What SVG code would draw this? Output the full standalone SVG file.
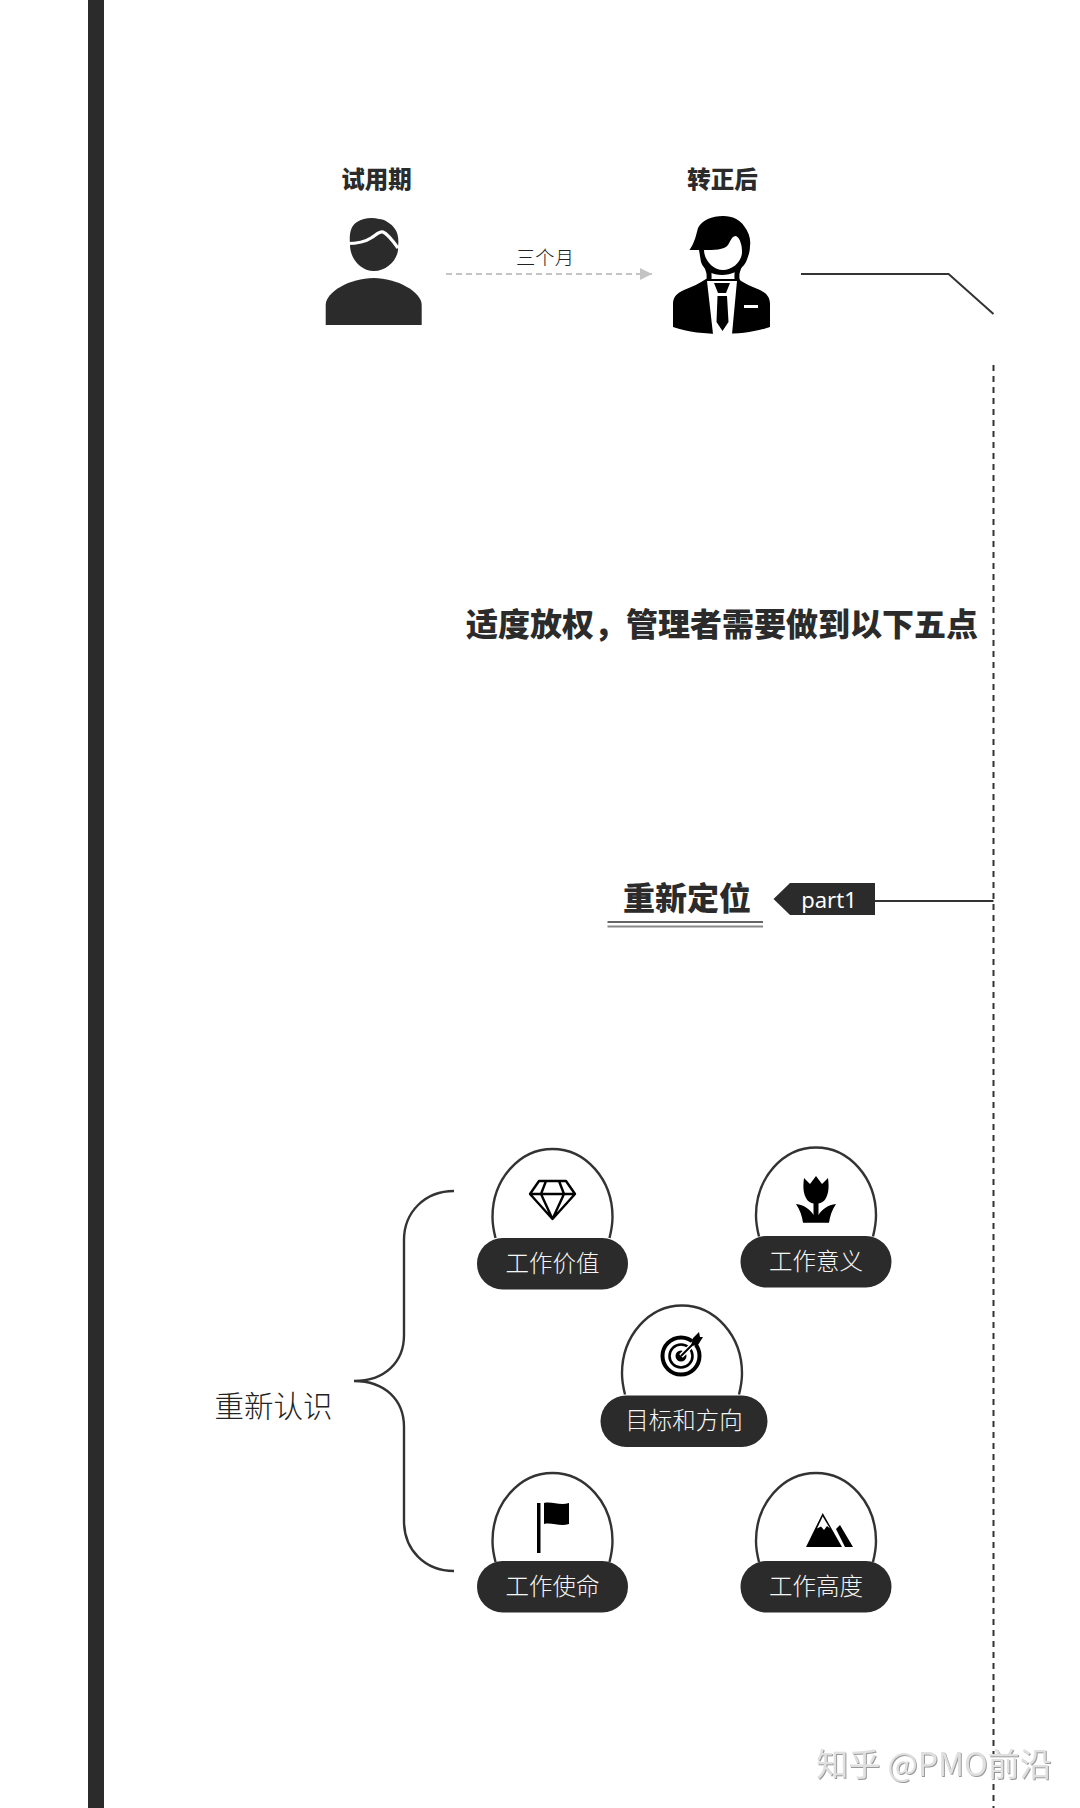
<svg xmlns="http://www.w3.org/2000/svg" width="1080" height="1808" viewBox="0 0 1080 1808">
<style>
text{font-family:"Noto Sans CJK SC","Noto Sans",sans-serif;text-anchor:middle;dominant-baseline:central}
.h{font-weight:900;fill:#2b2b2b}
.l{font-weight:300;fill:#222}
.p{font-size:23.5px;font-weight:300;fill:#f6f6f6}
.dome{fill:#fff;stroke:#333;stroke-width:2.4}
.pill{fill:#2b2b2b}
.c{fill:none;stroke:#333}
</style>
<defs>
<path id="dome" class="dome" d="M-57,89C-59,81-60,75-60,68A60,68 0 0 1 60,68C60,75 59,81 57,89"/>
<marker id="ah" markerUnits="userSpaceOnUse" markerWidth="12" markerHeight="12" refX="12" refY="6" orient="auto"><path d="M0,0L12,6L0,12Z" fill="#c4c4c4"/></marker>
<filter id="wm" x="-5%" y="-20%" width="110%" height="140%"><feDropShadow dx="1" dy="1" stdDeviation="0.5" flood-color="#999"/></filter>
</defs>
<rect width="1080" height="1808" fill="#fff"/>
<rect id="bar" x="88" y="0" width="16" height="1808" fill="#2b2b2b"/>

<g id="connectors">
<path d="M446,274H652" stroke="#c4c4c4" stroke-width="2" stroke-dasharray="6 4" fill="none" marker-end="url(#ah)"/>
<path class="c" stroke-width="2" d="M801,274H948.6L993.5,314"/>
<path class="c" stroke-width="2" stroke-dasharray="6 5" d="M993.5,365V1808"/>
<path class="c" stroke-width="2" d="M875,901H993.5"/>
<path class="c" stroke-width="2.4" d="M454,1191C425,1191 404,1212 404,1240V1335C404,1362 385,1381 354,1381C385,1381 404,1400 404,1427V1521C404,1550 425,1571 454,1571"/>
</g>

<g id="trial">
<text class="h" x="376.500" y="177.500" font-size="23.5">试用期</text>
<path fill="#2b2b2b" d="M350,245C349,232 351,226 357,222C363,218 372,217 379,219C384,219 392,224 395,229C398,233 399,240 398,247C399,258 388,271 374,271C360,271 350,258 350,245Z"/>
<path fill="none" stroke="#fff" stroke-width="3.2" d="M347,243.5C358,243.5 365,242 371,238C376,235 379,231 383,232C388,234 393,241 398,248"/>
<path fill="#2b2b2b" d="M325.7,325V305C325.7,292 350,278 373.7,278C397,278 421.700,292 421.700,305V325Z"/>
</g>

<text class="l" x="545" y="256.500" font-size="19.3" id="label-months">三个月</text>

<g id="regular">
<text class="h" x="722.500" y="177.500" font-size="23.5">转正后</text>
<path fill="#000" d="M673,327V304C673,297 677,293 684,290C692,287 700,283 706,279L738,279C744,283 752,287 760,290C766,293 770,297 770,304V327C755,332 740,334 722,334C705,334 688,332 673,327Z"/>
<path fill="none" stroke="#000" stroke-width="5" d="M705,262C708,270 711,275 708,282M741,262C738,270 735,275 738,282"/>
<path fill="#000" d="M689.500,250C695,242 696,235 698,228C702,220 712,216 723,216C733,216 740,220 744,226C749,232 751,240 750,246C750,252 748,257 746,262C741,271 731,275 722,275C713,275 704,271 701,262L699,250Z"/>
<path fill="#fff" d="M704,250C714,250 724,250 728,245C731,240 732,236 736,236C740,238 742,245 742,252C742,262 732,270 723,270C713,270 704,260 704,250Z"/>
<path fill="#fff" d="M707,281H737L732,334H713Z"/>
<path fill="#000" d="M714,283H730L726,293H718ZM717.500,296H727L728.500,322L722.500,331L716.500,322Z"/>
<path fill="#fff" d="M744,305H758V308H744Z"/>
</g>

<text class="h" x="722" y="622.300" font-size="32" id="title">适度放权，管理者需要做到以下五点</text>

<g id="part1">
<text class="h" x="687" y="896" font-size="32">重新定位</text>
<path d="M607.5,922H763" stroke="#333" stroke-width="1.4"/>
<path d="M607.5,926.5H763" stroke="#888" stroke-width="2"/>
<path fill="#2b2b2b" d="M773.5,899L790,883H875V915H790Z"/>
<text x="829" y="898.500" font-size="22" fill="#fff" style="font-family:'Noto Sans',sans-serif;font-weight:400">part1</text>
</g>

<text class="l" x="273.5" y="1404" font-size="29.5" id="relearn">重新认识</text>

<g id="value">
<use href="#dome" x="552.5" y="1149"/>
<rect class="pill" x="477" y="1238" width="151" height="51.5" rx="25.7"/>
<text class="p" x="552.5" y="1261.500">工作价值</text>
<path fill="none" stroke="#000" stroke-width="2.4" stroke-linejoin="round" d="M539,1181H566L575,1194L552.5,1219L530,1194ZM530,1194H575M546,1181L541,1194L552.5,1219L564,1194L559,1181"/>
</g>
<g id="meaning">
<use href="#dome" x="816" y="1147.5"/>
<rect class="pill" x="740.5" y="1236" width="151" height="51.5" rx="25.7"/>
<text class="p" x="816" y="1260">工作意义</text>
<path fill="#000" d="M804,1178L810,1184L816,1176L822,1184L828,1178C829,1186 829,1192 826,1198C824,1202 821,1203 818.500,1203.500V1215C822,1209 828,1205 836,1204C832,1210 830,1216 829,1222.700H803C802,1216 800,1210 796,1204C804,1205 810,1209 813.500,1215V1203.500C811,1203 808,1202 806,1198C803,1192 803,1186 804,1178Z"/>
</g>
<g id="goal">
<use href="#dome" x="682" y="1305.5"/>
<rect class="pill" x="600.5" y="1395.5" width="167" height="51.5" rx="25.7"/>
<text class="p" x="684" y="1419">目标和方向</text>
<circle cx="681" cy="1356" r="18.5" fill="none" stroke="#000" stroke-width="4"/>
<circle cx="681" cy="1356" r="11.5" fill="none" stroke="#000" stroke-width="2.6"/>
<circle cx="681" cy="1356" r="5.5" fill="#000"/>
<path d="M681,1356L697,1340" stroke="#fff" stroke-width="5"/>
<path d="M681,1356L697,1340" stroke="#000" stroke-width="2"/>
<path fill="#000" d="M693,1338L699,1332L700,1337L703,1337L698,1345L691,1346Z"/>
</g>
<g id="mission">
<use href="#dome" x="552.5" y="1473"/>
<rect class="pill" x="477" y="1561" width="151" height="51.5" rx="25.7"/>
<text class="p" x="552.5" y="1585">工作使命</text>
<path fill="#000" d="M537,1503H540.5V1553H537ZM544,1503C552,1501 560,1506 569,1503V1524C560,1527 552,1522 544,1524Z"/>
</g>
<g id="height">
<use href="#dome" x="816" y="1473"/>
<rect class="pill" x="740.5" y="1561" width="151" height="51.5" rx="25.7"/>
<text class="p" x="816" y="1585">工作高度</text>
<path fill="#000" d="M806,1547L822.700,1513L842,1547ZM836,1529L840,1525L853,1547H845Z"/>
<path fill="#fff" d="M822.700,1516.500L817,1528.500L821,1526.500L824,1530L827,1526L830,1528.500Z"/>
</g>

<text id="watermark" x="934" y="1762" font-size="32" fill="#e0e0e0" filter="url(#wm)">知乎 @PMO前沿</text>
</svg>
